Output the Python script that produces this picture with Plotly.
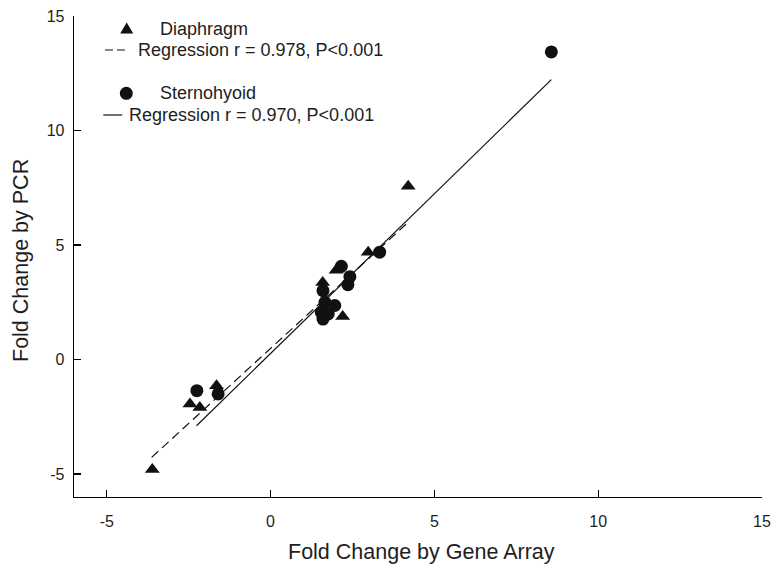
import plotly.graph_objects as go

# ---------------- data ----------------
diaphragm_x = [-3.61, -2.46, -2.16, -1.65, 1.59, 2.00, 2.20, 2.98, 4.20]
diaphragm_y = [-4.80, -1.94, -2.09, -1.14, 3.37, 3.90, 1.88, 4.69, 7.57]

sternohyoid_x = [-2.25, -1.60, 1.60, 1.66, 1.96, 1.55, 1.60, 1.76, 2.16, 2.42, 2.36, 3.33, 8.57]
sternohyoid_y = [-1.36, -1.50, 3.01, 2.50, 2.36, 2.06, 1.77, 1.99, 4.07, 3.62, 3.27, 4.69, 13.43]

diaphragm_fit_x = [-3.63, 4.19]
diaphragm_fit_y = [-4.27, 5.98]
sternohyoid_fit_x = [-2.26, 8.57]
sternohyoid_fit_y = [-2.89, 12.22]

x_tick_vals = [-5, 0, 5, 10, 15]
x_tick_text = ["-5", "0", "5", "10", "15"]
y_tick_vals = [-5, 0, 5, 10, 15]
y_tick_text = ["-5", "0", "5", "10", "15"]

legend_labels = ["Diaphragm", "Regression r = 0.978, P<0.001",
                 "Sternohyoid", "Regression r = 0.970, P<0.001"]

x_title = "Fold Change by Gene Array"
y_title = "Fold Change by PCR"

# ---------------- layout constants ----------------
W, H = 772, 565
ML, MR, MT, MB = 74, 10, 16, 68
PW, PH = W - ML - MR, H - MT - MB
FONT = "Liberation Sans, Arial, sans-serif"
INK = "#111111"
TXT = "#1e1e1e"


def px(xp):
    return (xp - ML) / PW


def py(yp):
    return (H - MB - yp) / PH


fig = go.Figure()

fig.add_trace(go.Scatter(x=diaphragm_fit_x, y=diaphragm_fit_y, mode="lines",
                         line=dict(color=INK, width=1.2, dash="9px,5px"),
                         showlegend=False, hoverinfo="skip"))
fig.add_trace(go.Scatter(x=sternohyoid_fit_x, y=sternohyoid_fit_y, mode="lines",
                         line=dict(color=INK, width=1.2),
                         showlegend=False, hoverinfo="skip"))
fig.add_trace(go.Scatter(x=diaphragm_x, y=diaphragm_y, mode="markers",
                         marker=dict(symbol="triangle-up", size=13, color=INK,
                                     line=dict(width=0)),
                         name=legend_labels[0], showlegend=False))
fig.add_trace(go.Scatter(x=sternohyoid_x, y=sternohyoid_y, mode="markers",
                         marker=dict(symbol="circle", size=13, color=INK,
                                     line=dict(width=0)),
                         name=legend_labels[2], showlegend=False))

axis_common = dict(showline=True, linecolor="black", linewidth=1.3,
                   ticks="inside", ticklen=7, tickwidth=1.3, tickcolor="black",
                   showgrid=False, zeroline=False, automargin=False,
                   ticklabeloverflow="allow",
                   tickfont=dict(family=FONT, size=16, color=TXT))

fig.update_xaxes(range=[-6, 15], tickvals=x_tick_vals, ticktext=x_tick_text,
                 ticklabelstandoff=9, **axis_common)
fig.update_yaxes(range=[-6, 15], tickvals=y_tick_vals, ticktext=y_tick_text,
                 ticklabelstandoff=5, **axis_common)

# ---------------- manual legend ----------------
shapes = []
shapes.append(dict(type="path", xref="paper", yref="paper",
                   xsizemode="pixel", ysizemode="pixel",
                   xanchor=px(126.7), yanchor=py(29),
                   path="M-6.5,-4.5 L6.5,-4.5 L0,6.5 Z",
                   fillcolor=INK, line=dict(width=0)))
shapes.append(dict(type="line", xref="paper", yref="paper",
                   x0=px(105), x1=px(125), y0=py(50), y1=py(50),
                   line=dict(color=INK, width=1.2, dash="8px,4px")))
shapes.append(dict(type="circle", xref="paper", yref="paper",
                   xsizemode="pixel", ysizemode="pixel",
                   xanchor=px(126.3), yanchor=py(93.3),
                   x0=-6.5, x1=6.5, y0=-6.5, y1=6.5,
                   fillcolor=INK, line=dict(width=0)))
shapes.append(dict(type="line", xref="paper", yref="paper",
                   x0=px(103.3), x1=px(122.3), y0=py(115), y1=py(115),
                   line=dict(color=INK, width=1.2)))

text_pos = [(158, 29), (135.7, 50), (158.3, 93), (126.7, 115)]
annotations = []
for label, (tx, ty) in zip(legend_labels, text_pos):
    annotations.append(dict(text=label, xref="paper", yref="paper",
                            x=px(tx), y=py(ty), xanchor="left", yanchor="middle",
                            showarrow=False,
                            font=dict(family=FONT, size=18, color=TXT)))

# axis titles
annotations.append(dict(text=x_title, xref="paper", yref="paper",
                        x=px(421.7), y=py(552), xanchor="center", yanchor="middle",
                        showarrow=False, font=dict(family=FONT, size=21.5, color=TXT)))
annotations.append(dict(text=y_title, xref="paper", yref="paper",
                        x=px(21), y=py(261), xanchor="center", yanchor="middle",
                        textangle=-90, showarrow=False,
                        font=dict(family=FONT, size=21.5, color=TXT)))

fig.update_layout(width=W, height=H,
                  margin=dict(l=ML, r=MR, t=MT, b=MB),
                  paper_bgcolor="white", plot_bgcolor="white",
                  shapes=shapes, annotations=annotations,
                  showlegend=False)

# remove the default page margin so the 772x565 figure fills the window
fig.write_html("out.html",
               config={"displayModeBar": False, "staticPlot": True},
               post_script="document.body.style.margin='0';"
                           "document.body.style.overflow='hidden';")
